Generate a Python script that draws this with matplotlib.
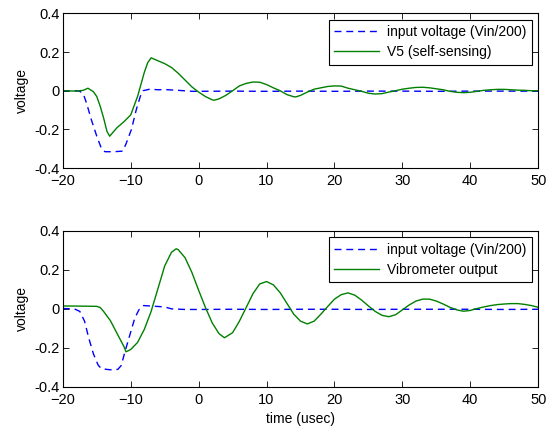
import matplotlib
matplotlib.use("Agg")
import matplotlib.pyplot as plt

plt.rcParams['font.family'] = ['Liberation Sans', 'DejaVu Sans']
plt.rcParams['font.size'] = 10

# top panel: input voltage and self-sensing V5
t_in1 = [-20, -18, -17.5, -17, -16.5, -15.8, -15, -14.3, -13.8, -12.5, -11.2, -10.7, -9.9, -9.2, -8.6, -8.2,
         -7.2, -6, -5, -3, -1, 0, 5, 10, 15, 20, 25, 30, 35, 40, 45, 50]
v_in1 = [0, 0, -0.003, -0.015, -0.065, -0.15, -0.235, -0.3, -0.315, -0.315, -0.312, -0.275, -0.2, -0.1, -0.03, 0,
         0.008, 0.005, 0.006, 0.002, -0.003, -0.003, -0.002, -0.003, -0.002, -0.003, -0.002, -0.002, -0.003, -0.002, -0.002, -0.002]

t_v5 = [-20, -18, -17, -16.3, -15.5, -15, -14.5, -14, -13.5, -13.1, -12.5, -12, -11, -10, -9, -8, -7.5, -7, -6, -5, -4, -3, -2, -1,
        0, 1, 2, 2.3, 3, 4, 5, 6, 7, 8, 9, 10, 11, 12, 13, 14, 14.3, 15, 16, 17, 18, 19, 20, 21, 22, 23, 24,
        25, 26, 27, 28, 29, 30, 31, 32, 33, 34, 35, 36, 37, 38, 39, 40, 41, 42, 43, 44, 45, 46, 47, 48, 49, 50]
v5 = [0, -0.002, 0.002, 0.013, -0.005, -0.03, -0.08, -0.14, -0.21, -0.235, -0.21, -0.19, -0.16, -0.125, -0.03, 0.095, 0.145, 0.17, 0.155, 0.14, 0.12, 0.09, 0.055, 0.02,
      -0.007, -0.03, -0.047, -0.049, -0.042, -0.024, 0.0, 0.025, 0.038, 0.045, 0.044, 0.032, 0.015, 0.0, -0.02, -0.031, -0.032, -0.024, -0.007, 0.008, 0.015, 0.022, 0.025, 0.024, 0.013, 0.005, -0.003,
      -0.013, -0.017, -0.015, -0.007, 0.0, 0.008, 0.013, 0.017, 0.018, 0.015, 0.01, 0.005, -0.003, -0.008, -0.01, -0.008, -0.003, 0.002, 0.005, 0.007, 0.007, 0.005, 0.003, 0.002, 0.0, 0.0]

# bottom panel: input voltage and vibrometer output
t_in2 = [-20, -18.3, -17.5, -16.8, -16.2, -15.5, -14.8, -14.3, -13, -11.9, -11.4, -10.8, -10.1, -9.4, -8.8, -8.1,
         -7.2, -5, -4, -2, 0, 5, 10, 15, 20, 25, 30, 35, 40, 45, 50]
v_in2 = [0.002, 0, -0.013, -0.063, -0.147, -0.23, -0.288, -0.307, -0.312, -0.31, -0.29, -0.213, -0.13, -0.047, -0.005, 0.017,
         0.015, 0.01, 0.0, -0.003, -0.003, -0.002, -0.003, -0.002, -0.002, -0.003, -0.002, -0.002, -0.002, -0.003, -0.002]

t_vib = [-20, -17, -15, -14.5, -14, -13, -12, -11, -10.7, -10, -9, -8, -7, -6, -5, -4, -3.3, -3, -2, -1,
         0, 1, 2, 3, 3.8, 5, 6, 7, 8, 9, 10, 11, 12, 13, 14, 15, 16, 17, 18, 19, 20, 21, 22, 23, 24,
         25, 26, 27, 28, 29, 30, 31, 32, 33, 34, 35, 36, 37, 38, 39, 40, 41, 42, 43, 44, 45, 46, 47, 48, 49, 50]
v_vib = [0.015, 0.014, 0.013, 0.007, -0.013, -0.06, -0.127, -0.193, -0.22, -0.208, -0.172, -0.105, -0.013, 0.103, 0.22, 0.29, 0.308, 0.303, 0.262, 0.187,
         0.095, 0.007, -0.072, -0.127, -0.148, -0.122, -0.063, 0.007, 0.078, 0.128, 0.14, 0.123, 0.083, 0.028, -0.027, -0.063, -0.077, -0.063, -0.027, 0.012, 0.05, 0.073, 0.082, 0.07, 0.045,
         0.015, -0.013, -0.033, -0.04, -0.03, -0.005, 0.02, 0.04, 0.05, 0.05, 0.04, 0.025, 0.008, -0.005, -0.012, -0.008, 0.002, 0.01, 0.017, 0.022, 0.025, 0.027, 0.027, 0.023, 0.017, 0.008]

fig = plt.figure(figsize=(5.56, 4.29), dpi=100)
ax1 = fig.add_axes([0.113, 0.608, 0.855, 0.361])
ax2 = fig.add_axes([0.113, 0.098, 0.855, 0.364])

panels = [
    (ax1, t_in1, v_in1, t_v5, v5, 'V5 (self-sensing)'),
    (ax2, t_in2, v_in2, t_vib, v_vib, 'Vibrometer output'),
]

for ax, ta, va, tb, vb, lab in panels:
    ax.plot(ta, va, color='#0000ff', lw=1.0, dashes=(5, 3.5), label='input voltage (Vin/200)')
    ax.plot(tb, vb, color='#008000', lw=1.0, label=lab)
    ax.set_xlim(-20, 50)
    ax.set_ylim(-0.4, 0.4)
    ax.set_xticks([-20, -10, 0, 10, 20, 30, 40, 50])
    ax.set_yticks([-0.4, -0.2, 0, 0.2, 0.4])
    ax.set_yticklabels(['-0.4', '-0.2', '0', '0.2', '0.4'])
    ax.tick_params(direction='in', top=True, right=True, length=4, width=0.6, labelsize=10.5)
    ax.tick_params(axis='x', pad=4)
    ax.tick_params(axis='y', pad=2)
    for s in ax.spines.values():
        s.set_linewidth(0.8)
    ax.set_ylabel('voltage', fontsize=10, labelpad=4)
    leg = ax.legend(loc='upper right', fancybox=False, framealpha=1, edgecolor='black',
                    handlelength=3.2, borderpad=0.4, labelspacing=0.45, handletextpad=0.6,
                    borderaxespad=0.45, fontsize=10)
    leg.get_frame().set_linewidth(0.8)

ax2.set_xlabel('time (usec)', fontsize=10, labelpad=4)

fig.savefig('out.png', dpi=100)
